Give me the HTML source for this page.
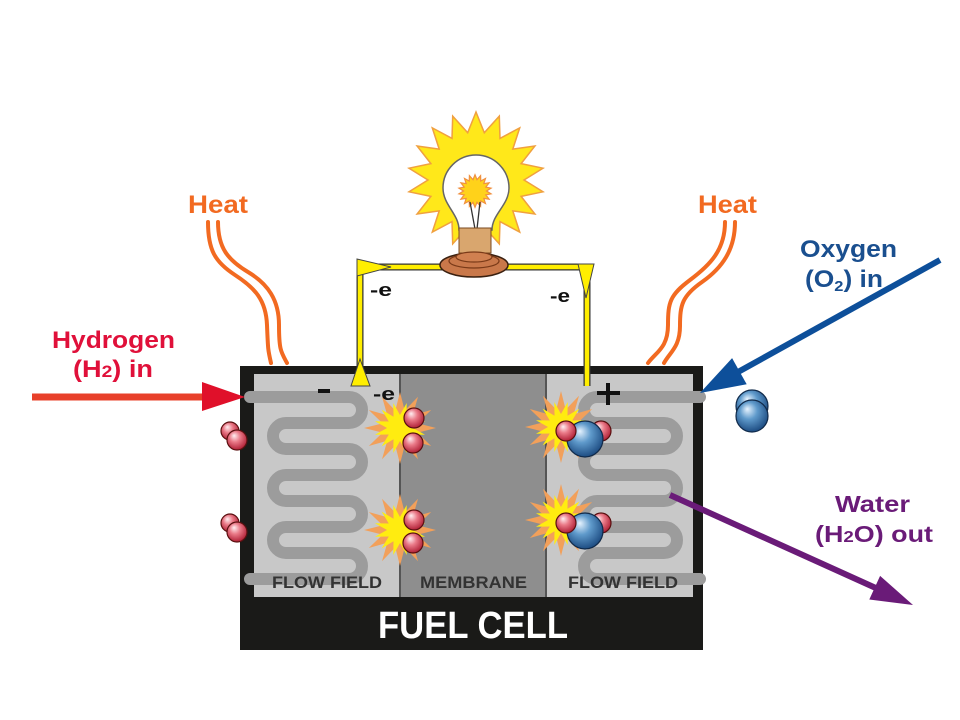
<!DOCTYPE html>
<html>
<head>
<meta charset="utf-8">
<style>
  html,body{margin:0;padding:0;background:#fff;}
  svg{display:block;}
  text{font-family:"Liberation Sans", Arial, sans-serif;font-weight:bold;}
</style>
</head>
<body>
<svg width="960" height="720" viewBox="0 0 960 720" xmlns="http://www.w3.org/2000/svg">
  <defs>
    <radialGradient id="pink" cx="45%" cy="40%" r="60%" fx="35%" fy="28%">
      <stop offset="0" stop-color="#fff0f2"/>
      <stop offset="0.45" stop-color="#ea7a88"/>
      <stop offset="1" stop-color="#b02036"/>
    </radialGradient>
    <radialGradient id="blue" cx="45%" cy="40%" r="60%" fx="35%" fy="28%">
      <stop offset="0" stop-color="#e8f4ff"/>
      <stop offset="0.45" stop-color="#5f9acb"/>
      <stop offset="1" stop-color="#1d4c82"/>
    </radialGradient>
    <polygon id="star12" points="36,0 17.4,4.7 31.2,18 12.7,12.7 18,31.2 4.7,17.4 0,36 -4.7,17.4 -18,31.2 -12.7,12.7 -31.2,18 -17.4,4.7 -36,0 -17.4,-4.7 -31.2,-18 -12.7,-12.7 -18,-31.2 -4.7,-17.4 0,-36 4.7,-17.4 18,-31.2 12.7,-12.7 31.2,-18 17.4,-4.7"/>
    <polygon id="sun18" points="48,0 67,11.8 45.1,16.4 58.9,34 36.8,30.9 43.7,52.1 24,41.6 23.3,63.9 8.3,47.3 0,68 -8.3,47.3 -23.3,63.9 -24,41.6 -43.7,52.1 -36.8,30.9 -58.9,34 -45.1,16.4 -67,11.8 -48,0 -67,-11.8 -45.1,-16.4 -58.9,-34 -36.8,-30.9 -43.7,-52.1 -24,-41.6 -23.3,-63.9 -8.3,-47.3 0,-68 8.3,-47.3 23.3,-63.9 24,-41.6 43.7,-52.1 36.8,-30.9 58.9,-34 45.1,-16.4 67,-11.8"/>
    <g id="burst">
      <use href="#star12" fill="#f2a05a"/>
      <use href="#star12" fill="#ffec10" transform="rotate(15) scale(0.72)"/>
    </g>
  </defs>

  <!-- Fuel cell box -->
  <rect x="240" y="366" width="463" height="284" fill="#1a1a18"/>
  <rect x="254" y="374" width="146" height="223" fill="#c8c8c8"/>
  <rect x="400" y="374" width="146" height="223" fill="#8e8e8e"/>
  <rect x="546" y="374" width="147" height="223" fill="#c8c8c8"/>
  <line x1="400" y1="374" x2="400" y2="597" stroke="#555" stroke-width="2"/>
  <line x1="546" y1="374" x2="546" y2="597" stroke="#555" stroke-width="2"/>

  <!-- Flow field tubes -->
  <path d="M 250 397 H 349 A 13 13 0 0 1 349 423 H 286 A 13 13 0 0 0 286 449 H 349 A 13 13 0 0 1 349 475 H 286 A 13 13 0 0 0 286 501 H 349 A 13 13 0 0 1 349 527 H 286 A 13 13 0 0 0 286 553 H 349 A 13 13 0 0 1 349 579 H 250" fill="none" stroke="#9c9c9c" stroke-width="12" stroke-linecap="round"/>
  <path d="M 700 397 H 597 A 13 13 0 0 0 597 423 H 664 A 13 13 0 0 1 664 449 H 597 A 13 13 0 0 0 597 475 H 664 A 13 13 0 0 1 664 501 H 597 A 13 13 0 0 0 597 527 H 664 A 13 13 0 0 1 664 553 H 597 A 13 13 0 0 0 597 579 H 700" fill="none" stroke="#9c9c9c" stroke-width="12" stroke-linecap="round"/>

  <!-- panel labels -->
  <text x="272" y="588" font-size="17" fill="#333" textLength="110" lengthAdjust="spacingAndGlyphs">FLOW FIELD</text>
  <text x="420" y="588" font-size="17" fill="#333" textLength="107" lengthAdjust="spacingAndGlyphs">MEMBRANE</text>
  <text x="568" y="588" font-size="17" fill="#333" textLength="110" lengthAdjust="spacingAndGlyphs">FLOW FIELD</text>
  <text x="378" y="638" font-size="38" fill="#fff" textLength="190" lengthAdjust="spacingAndGlyphs">FUEL CELL</text>

  <!-- minus and plus -->
  <rect x="318" y="389" width="12" height="4" fill="#111"/>
  <rect x="597" y="391" width="23" height="4" fill="#111"/>
  <rect x="606" y="383" width="4" height="22" fill="#111"/>

  <!-- bursts left -->
  <use href="#burst" transform="translate(400,428)"/>
  <use href="#burst" transform="translate(400,530)"/>
  <circle cx="414" cy="418" r="10" fill="url(#pink)" stroke="#5a1010" stroke-width="1.2"/>
  <circle cx="413" cy="443" r="10" fill="url(#pink)" stroke="#5a1010" stroke-width="1.2"/>
  <circle cx="414" cy="520" r="10" fill="url(#pink)" stroke="#5a1010" stroke-width="1.2"/>
  <circle cx="413" cy="543" r="10" fill="url(#pink)" stroke="#5a1010" stroke-width="1.2"/>

  <!-- bursts right -->
  <use href="#burst" transform="translate(561,427)"/>
  <use href="#burst" transform="translate(561,520)"/>
  <circle cx="601" cy="431" r="10" fill="url(#pink)" stroke="#5a1010" stroke-width="1.2"/>
  <circle cx="585" cy="439" r="18" fill="url(#blue)" stroke="#102a4a" stroke-width="1.2"/>
  <circle cx="566" cy="431" r="10" fill="url(#pink)" stroke="#5a1010" stroke-width="1.2"/>
  <circle cx="601" cy="523" r="10" fill="url(#pink)" stroke="#5a1010" stroke-width="1.2"/>
  <circle cx="585" cy="531" r="18" fill="url(#blue)" stroke="#102a4a" stroke-width="1.2"/>
  <circle cx="566" cy="523" r="10" fill="url(#pink)" stroke="#5a1010" stroke-width="1.2"/>

  <!-- outside molecules -->
  <circle cx="230" cy="431" r="9" fill="url(#pink)" stroke="#5a1010" stroke-width="1.2"/>
  <circle cx="237" cy="440" r="10" fill="url(#pink)" stroke="#5a1010" stroke-width="1.2"/>
  <circle cx="230" cy="523" r="9" fill="url(#pink)" stroke="#5a1010" stroke-width="1.2"/>
  <circle cx="237" cy="532" r="10" fill="url(#pink)" stroke="#5a1010" stroke-width="1.2"/>
  <circle cx="752" cy="406" r="16" fill="url(#blue)" stroke="#102a4a" stroke-width="1.2"/>
  <circle cx="752" cy="416" r="16" fill="url(#blue)" stroke="#102a4a" stroke-width="1.2"/>

  <!-- wires -->
  <path d="M 360 382 V 267 H 587 V 386" fill="none" stroke="#333" stroke-width="7"/>
  <path d="M 360 382 V 267 H 587 V 386" fill="none" stroke="#ffee00" stroke-width="4.5"/>
  <polygon points="357,259 357,276 391,267" fill="#ffee00" stroke="#444" stroke-width="1"/>
  <polygon points="578,264 594,264 586,298" fill="#ffee00" stroke="#444" stroke-width="1"/>
  <polygon points="351,386 370,386 360,359" fill="#ffee00" stroke="#444" stroke-width="1"/>

  <!-- bulb -->
  <use href="#sun18" transform="translate(476,180)" fill="#ffe81a" stroke="#f0a040" stroke-width="1.5"/>
  <path d="M 459 230 C 459 214, 443 205, 443 188 A 33 33 0 1 1 509 188 C 509 205, 492 214, 492 230 Z" fill="#fff" stroke="#666" stroke-width="1.5"/>
  <use href="#sun18" transform="translate(475,191) scale(0.24)" fill="#ffd21a" stroke="#f09040" stroke-width="5"/>
  <path d="M 470 202 L 475 229 M 480 202 L 477 229" stroke="#333" stroke-width="1.3" fill="none"/>
  <rect x="459" y="228" width="32" height="25" fill="#d9a66e" stroke="#7a4a20" stroke-width="1"/>
  <ellipse cx="474" cy="265" rx="34" ry="12" fill="#c9784a" stroke="#3a2010" stroke-width="1.5"/>
  <ellipse cx="474" cy="261" rx="25" ry="7" fill="#c9784a" stroke="#7a3a18" stroke-width="1.2"/>
  <ellipse cx="474" cy="257" rx="18" ry="5" fill="#d08050" stroke="#7a3a18" stroke-width="1.2"/>

  <!-- -e labels -->
  <text x="370" y="296" font-size="18" fill="#111" textLength="22" lengthAdjust="spacingAndGlyphs">-e</text>
  <text x="550" y="302" font-size="18" fill="#111" textLength="20" lengthAdjust="spacingAndGlyphs">-e</text>
  <text x="373" y="400" font-size="18" fill="#111" textLength="22" lengthAdjust="spacingAndGlyphs">-e</text>

  <!-- heat waves -->
  <g fill="none" stroke="#f26a21" stroke-width="4" stroke-linecap="round">
    <path d="M 208 222 C 208 250, 215 262, 235 275 S 266 300, 267 325 S 268 350, 271 363"/>
    <path d="M 218 222 C 218 248, 228 260, 248 272 S 279 300, 279 325 S 281 352, 287 363"/>
    <path d="M 725 222 C 725 250, 710 265, 690 280 S 668 302, 668 325 S 656 352, 648 363"/>
    <path d="M 735 222 C 735 250, 722 268, 702 282 S 680 305, 680 326 S 670 352, 664 363"/>
  </g>
  <text x="188" y="213" font-size="25" fill="#f26a21" textLength="60" lengthAdjust="spacingAndGlyphs">Heat</text>
  <text x="698" y="213" font-size="25" fill="#f26a21" textLength="59" lengthAdjust="spacingAndGlyphs">Heat</text>

  <!-- hydrogen -->
  <line x1="32" y1="397" x2="206" y2="397" stroke="#e8402a" stroke-width="7"/>
  <polygon points="202,382 202,411 245,397" fill="#e0102a"/>
  <text x="52" y="348" font-size="24" fill="#e0103a" textLength="123" lengthAdjust="spacingAndGlyphs">Hydrogen</text>
  <text x="73" y="377" font-size="24" fill="#e0103a" textLength="80" lengthAdjust="spacingAndGlyphs">(H<tspan font-size="17">2</tspan>) in</text>

  <!-- oxygen -->
  <line x1="940" y1="260" x2="738" y2="372" stroke="#0d4f9a" stroke-width="6"/>
  <polygon points="746.7,384.3 732.1,358.1 700,393" fill="#0d4f9a"/>
  <text x="800" y="257" font-size="24" fill="#1a4f8f" textLength="97" lengthAdjust="spacingAndGlyphs">Oxygen</text>
  <text x="805" y="287" font-size="24" fill="#1a4f8f" textLength="78" lengthAdjust="spacingAndGlyphs">(O<tspan font-size="15" dy="4">2</tspan><tspan dy="-4">) in</tspan></text>

  <!-- water -->
  <line x1="670" y1="495" x2="878" y2="589" stroke="#6a1b78" stroke-width="6"/>
  <polygon points="869.3,599.5 880.1,575.9 913,605" fill="#6a1b78"/>
  <text x="835" y="512" font-size="23" fill="#6a1b78" textLength="75" lengthAdjust="spacingAndGlyphs">Water</text>
  <text x="815" y="542" font-size="23" fill="#6a1b78" textLength="118" lengthAdjust="spacingAndGlyphs">(H<tspan font-size="16">2</tspan>O) out</text>
</svg>
</body>
</html>
